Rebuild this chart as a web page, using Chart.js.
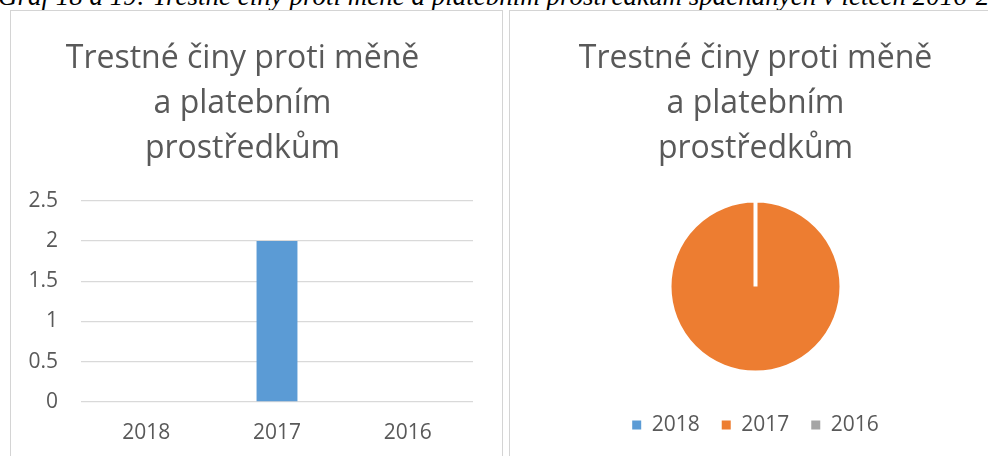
<!DOCTYPE html>
<html>
<head>
<meta charset="utf-8">
<script src="https://cdn.jsdelivr.net/npm/chart.js@4"></script>
<style>
  html, body { margin: 0; padding: 0; background: #fff; }
  body { width: 988px; height: 456px; overflow: hidden; position: relative; }
  .caption {
    position: absolute; left: -2px; top: -17px;
    font-family: "Liberation Serif", "Times New Roman", serif;
    font-style: italic; font-size: 27px; line-height: 27px;
    white-space: nowrap; color: #000;
  }
  .panel { position: absolute; top: 10px; height: 470px; border: 1px solid #d4d4d4; box-sizing: border-box; }
  .box { position: absolute; top: 12px; height: 444px; width: 489px; }
</style>
</head>
<body>
<div class="caption">Graf 18 a 19: Trestné činy proti měně a platebním prostředkům spáchaných v letech 2016-2018</div>
<div class="panel" style="left:10px;width:493px"></div>
<div class="panel" style="left:509px;width:493px"></div>
<div class="box" style="left:12px"><canvas id="graf_sloupce"></canvas></div>
<div class="box" style="left:511px"><canvas id="graf_kolac"></canvas></div>
<script>
const roky = ['2018', '2017', '2016'];
const pocty = [0, 2, 0];
const yTicks = [0, 0.5, 1, 1.5, 2, 2.5];
const nadpis = ['Trestné činy proti měně', 'a platebním', 'prostředkům'];
const barvy = ['#5b9bd5', '#ed7d31', '#a5a5a5'];

const pismo = '"Open Sans", sans-serif';
const seda = '#595959';

new Chart(document.getElementById('graf_sloupce'), {
  type: 'bar',
  data: {
    labels: roky,
    datasets: [{
      data: pocty,
      backgroundColor: barvy[0],
      barPercentage: 0.313,
      categoryPercentage: 1
    }]
  },
  options: {
    responsive: true,
    maintainAspectRatio: false,
    animation: false,
    layout: { padding: { left: 0, right: 28, top: 0, bottom: 0 } },
    scales: {
      y: {
        min: 0,
        max: 2.5,
        afterBuildTicks: scale => { scale.ticks = yTicks.map(v => ({ value: v })); },
        afterFit: scale => { scale.width = 69; },
        border: { display: false },
        grid: { color: '#d9d9d9', lineWidth: 1.3, drawTicks: false },
        ticks: {
          color: seda, padding: 23, font: { family: pismo, size: 21 },
          callback: v => String(v)
        }
      },
      x: {
        afterFit: scale => { scale.height = 54; },
        border: { display: false },
        grid: { display: false, drawTicks: false },
        ticks: { color: seda, padding: 18, font: { family: pismo, size: 21 } }
      }
    },
    plugins: {
      legend: { display: false },
      tooltip: { enabled: false },
      title: {
        display: true,
        text: nadpis,
        color: seda,
        font: { family: pismo, size: 32, weight: 'normal', lineHeight: 1.40625 },
        padding: { top: 24, bottom: 29.7 }
      }
    }
  }
});

new Chart(document.getElementById('graf_kolac'), {
  type: 'pie',
  data: {
    labels: roky,
    datasets: [{
      data: pocty,
      backgroundColor: barvy,
      borderColor: '#ffffff',
      borderWidth: 4
    }]
  },
  options: {
    responsive: true,
    maintainAspectRatio: false,
    animation: false,
    layout: { padding: { left: 0, right: 0, top: 0, bottom: 10.5 } },
    plugins: {
      tooltip: { enabled: false },
      title: {
        display: true,
        text: nadpis,
        color: seda,
        font: { family: pismo, size: 32, weight: 'normal', lineHeight: 1.40625 },
        padding: { top: 24, bottom: 27.6 }
      },
      legend: {
        position: 'bottom',
        title: { display: true, text: '', padding: 1.75 },
        labels: {
          color: seda,
          boxWidth: 9,
          boxHeight: 9,
          padding: 22,
          font: { family: pismo, size: 21 },
          // ctverecky v legende bez bileho okraje
          generateLabels: chart => Chart.overrides.pie.plugins.legend.labels
            .generateLabels(chart).map(item => ({ ...item, lineWidth: 0 }))
        }
      }
    }
  }
});
</script>
</body>
</html>
